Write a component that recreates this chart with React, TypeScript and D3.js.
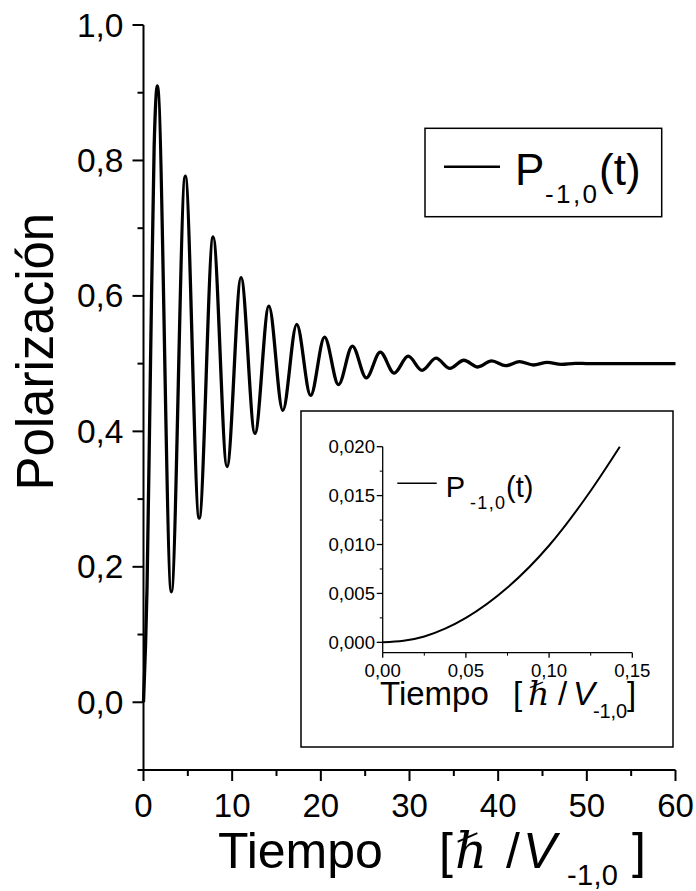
import React from 'react';
import * as d3 from 'd3';

// Main series: values (extrema and a few points on the first rise)
const mainTime = [0, 0.4, 0.79, 1.2, 1.57, 3.14, 4.71, 6.28, 7.85, 9.42, 11.0, 12.57, 14.14, 15.71, 17.28, 18.85, 20.42, 21.99, 23.56, 25.13, 26.7, 28.27, 29.85, 31.42, 32.99, 34.56, 36.13, 37.7, 39.27, 40.84, 42.41, 43.98, 45.55, 47.12, 48.69, 50.27, 55, 60];
const mainPol = [0, 0.17, 0.5, 0.82, 0.91, 0.163, 0.777, 0.272, 0.687, 0.348, 0.627, 0.397, 0.585, 0.431, 0.558, 0.453, 0.539, 0.469, 0.526, 0.479, 0.517, 0.486, 0.511, 0.49, 0.508, 0.493, 0.505, 0.495, 0.504, 0.497, 0.503, 0.498, 0.502, 0.499, 0.5005, 0.5, 0.5, 0.5];

const mainXTicks = [0, 10, 20, 30, 40, 50, 60];
const mainXMinor = [5, 15, 25, 35, 45, 55];
const mainYTicks = [0, 0.2, 0.4, 0.6, 0.8, 1.0];
const mainYTickLabels = ['0,0', '0,2', '0,4', '0,6', '0,8', '1,0'];
const mainYMinor = [-0.1, 0.1, 0.3, 0.5, 0.7, 0.9];

// Inset series
const insetTime = [0, 0.0125, 0.025, 0.0375, 0.05, 0.075, 0.1, 0.125, 0.1425];
const insetPol = [0, 0.00015, 0.0006, 0.0014, 0.0025, 0.0056, 0.0099, 0.0155, 0.02];

const insetXTicks = [0, 0.05, 0.1, 0.15];
const insetXTickLabels = ['0,00', '0,05', '0,10', '0,15'];
const insetXMinor = [0.025, 0.075, 0.125];
const insetYTicks = [0, 0.005, 0.01, 0.015, 0.02];
const insetYTickLabels = ['0,000', '0,005', '0,010', '0,015', '0,020'];
const insetYMinor = [0.0025, 0.0075, 0.0125, 0.0175];

const FONT = 'Liberation Sans, Arial, Helvetica, sans-serif';
const SERIF = 'Liberation Serif, DejaVu Serif, serif';

export default function App() {
  const xs = d3.scaleLinear().domain([0, 60]).range([143.5, 675.5]);
  const ys = d3.scaleLinear().domain([-0.1, 1.0]).range([770, 25]);
  const ix = d3.scaleLinear().domain([0, 0.15]).range([382.7, 632.3]);
  const iy = d3.scaleLinear().domain([-0.00106, 0.02]).range([652.7, 446.7]);

  const mainData = mainTime.map((t, i) => [t, mainPol[i]] as [number, number]);
  const insetData = insetTime.map((t, i) => [t, insetPol[i]] as [number, number]);

  const mainLine = d3.line<[number, number]>()
    .x(d => xs(d[0]))
    .y(d => ys(d[1]))
    .curve(d3.curveMonotoneX);
  const insetLine = d3.line<[number, number]>()
    .x(d => ix(d[0]))
    .y(d => iy(d[1]))
    .curve(d3.curveMonotoneX);

  const axisY0 = ys(-0.1);
  const axisX0 = xs(0);
  const iAxisY0 = iy(-0.00106);
  const iAxisX0 = ix(0);

  return (
    <svg width={696} height={891} style={{ position: 'absolute', left: 0, top: 0, display: 'block', background: '#fff' }} fontFamily={FONT}>
      <rect x={0} y={0} width={696} height={891} fill="#fff" />

      {/* main curve */}
      <path d={mainLine(mainData) || ''} fill="none" stroke="#000" strokeWidth={3.3} strokeLinejoin="round" />

      {/* main axes */}
      <line x1={axisX0} y1={ys(1.0)} x2={axisX0} y2={axisY0} stroke="#000" strokeWidth={2} />
      <line x1={axisX0} y1={axisY0} x2={xs(60)} y2={axisY0} stroke="#000" strokeWidth={2} />
      {mainYTicks.map((v, i) => (
        <g key={'my' + i}>
          <line x1={axisX0 - 11} x2={axisX0} y1={ys(v)} y2={ys(v)} stroke="#000" strokeWidth={2} />
          <text x={123.5} y={ys(v) + 11.5} fontSize={33.5} textAnchor="end">{mainYTickLabels[i]}</text>
        </g>
      ))}
      {mainYMinor.map((v, i) => (
        <line key={'mym' + i} x1={axisX0 - 6} x2={axisX0} y1={ys(v)} y2={ys(v)} stroke="#000" strokeWidth={2} />
      ))}
      {mainXTicks.map((v, i) => (
        <g key={'mx' + i}>
          <line x1={xs(v)} x2={xs(v)} y1={axisY0} y2={axisY0 + 11} stroke="#000" strokeWidth={2} />
          <text x={xs(v)} y={816.7} fontSize={33} textAnchor="middle">{String(v)}</text>
        </g>
      ))}
      {mainXMinor.map((v, i) => (
        <line key={'mxm' + i} x1={xs(v)} x2={xs(v)} y1={axisY0} y2={axisY0 + 6} stroke="#000" strokeWidth={2} />
      ))}

      {/* main axis titles */}
      <text transform="translate(53,351.7) rotate(-90)" fontSize={51} textAnchor="middle">Polarización</text>
      <text x={218} y={868.3} fontSize={50}>Tiempo</text>
      <text x={439} y={868.3} fontSize={50}>[</text>
      <text x={455} y={868.3} fontSize={50} fontFamily={SERIF} fontStyle="italic">ℏ</text>
      <text x={506} y={868.3} fontSize={50}>/</text>
      <text x={523} y={868.3} fontSize={50} fontStyle="italic">V</text>
      <text x={567} y={885} fontSize={29} textLength={51} lengthAdjust="spacing">-1,0</text>
      <text x={632} y={868.3} fontSize={50}>]</text>

      {/* main legend */}
      <rect x={425} y={128.3} width={236.7} height={88.4} fill="#fff" stroke="#000" strokeWidth={1.5} />
      <line x1={444} x2={500} y1={166.7} y2={166.7} stroke="#000" strokeWidth={2.5} />
      <text x={515} y={185} fontSize={44}>P</text>
      <text x={545} y={203.3} fontSize={26} textLength={52} lengthAdjust="spacing">-1,0</text>
      <text x={599} y={185} fontSize={44}>(t)</text>

      {/* inset */}
      <rect x={301} y={411} width={372} height={336} fill="#fff" stroke="#000" strokeWidth={1.5} />
      <defs>
        <clipPath id="insetClip">
          <rect x={ix(0)} y={iy(0.02) - 1} width={ix(0.15) - ix(0)} height={iAxisY0 - iy(0.02) + 1} />
        </clipPath>
      </defs>
      <path d={insetLine(insetData) || ''} fill="none" stroke="#000" strokeWidth={2} clipPath="url(#insetClip)" />
      <line x1={iAxisX0} y1={iy(0.02)} x2={iAxisX0} y2={iAxisY0} stroke="#000" strokeWidth={1.3} />
      <line x1={iAxisX0} y1={iAxisY0} x2={ix(0.15)} y2={iAxisY0} stroke="#000" strokeWidth={1.3} />
      {insetYTicks.map((v, i) => (
        <g key={'iy' + i}>
          <line x1={iAxisX0 - 6} x2={iAxisX0} y1={iy(v)} y2={iy(v)} stroke="#000" strokeWidth={1.3} />
          <text x={375} y={iy(v) + 6.7} fontSize={18.6} textAnchor="end">{insetYTickLabels[i]}</text>
        </g>
      ))}
      {insetYMinor.map((v, i) => (
        <line key={'iym' + i} x1={iAxisX0 - 3} x2={iAxisX0} y1={iy(v)} y2={iy(v)} stroke="#000" strokeWidth={1} />
      ))}
      {insetXTicks.map((v, i) => (
        <g key={'ix' + i}>
          <line x1={ix(v)} x2={ix(v)} y1={iAxisY0} y2={iAxisY0 + 5} stroke="#000" strokeWidth={1.3} />
          <text x={ix(v)} y={676.7} fontSize={18.6} textAnchor="middle">{insetXTickLabels[i]}</text>
        </g>
      ))}
      {insetXMinor.map((v, i) => (
        <line key={'ixm' + i} x1={ix(v)} x2={ix(v)} y1={iAxisY0} y2={iAxisY0 + 3} stroke="#000" strokeWidth={1} />
      ))}

      {/* inset legend */}
      <line x1={397.3} x2={436.7} y1={483.3} y2={483.3} stroke="#000" strokeWidth={1.5} />
      <text x={445.7} y={496.7} fontSize={29}>P</text>
      <text x={470} y={509} fontSize={18} textLength={35} lengthAdjust="spacing">-1,0</text>
      <text x={506} y={496.7} fontSize={29}>(t)</text>

      {/* inset axis title */}
      <text x={380} y={705} fontSize={33}>Tiempo</text>
      <text x={513} y={705} fontSize={33}>[</text>
      <text x={528} y={705} fontSize={33} fontFamily={SERIF} fontStyle="italic">ℏ</text>
      <text x={558} y={705} fontSize={33}>/</text>
      <text x={573} y={705} fontSize={33} fontStyle="italic">V</text>
      <text x={593} y={718} fontSize={20} textLength={34} lengthAdjust="spacing">-1,0</text>
      <text x={627} y={705} fontSize={33}>]</text>
    </svg>
  );
}
